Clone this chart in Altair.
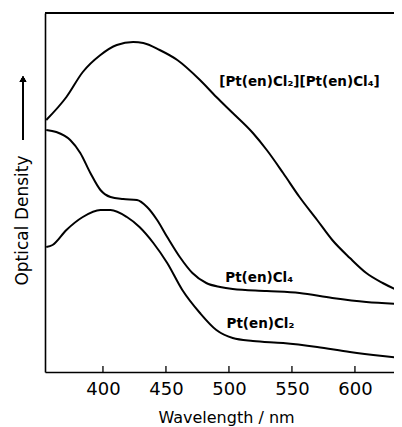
import altair as alt
import pandas as pd

# Wavelength (nm) and optical density (arbitrary units)
mixed_wl = [355, 371, 384, 398, 411, 424, 432, 445, 459, 477, 490, 503, 519, 530,
            543, 556, 570, 582, 596, 609, 622, 637]
mixed_od = [2.52, 2.75, 3.00, 3.17, 3.27, 3.30, 3.29, 3.22, 3.12, 2.92, 2.75, 2.59,
            2.39, 2.22, 1.99, 1.75, 1.52, 1.32, 1.14, 0.99, 0.89, 0.80]

cl4_wl = [355, 363, 374, 382, 390, 398, 406, 416, 427, 435, 443, 451, 461, 471,
          482, 493, 503, 530, 556, 582, 609, 637]
cl4_od = [2.42, 2.40, 2.32, 2.19, 1.99, 1.82, 1.75, 1.73, 1.72, 1.65, 1.52, 1.35,
          1.15, 0.99, 0.89, 0.85, 0.83, 0.81, 0.79, 0.74, 0.70, 0.68]

cl2_wl = [355, 360, 371, 384, 398, 406, 419, 429, 440, 451, 463, 477, 490, 503,
          519, 543, 570, 596, 622, 637]
cl2_od = [1.25, 1.27, 1.42, 1.55, 1.62, 1.62, 1.55, 1.45, 1.29, 1.09, 0.82, 0.59,
          0.42, 0.34, 0.31, 0.29, 0.25, 0.20, 0.16, 0.14]

series_names = ["[Pt(en)Cl₂][Pt(en)Cl₄]", "Pt(en)Cl₄", "Pt(en)Cl₂"]
label_wl = [556, 524, 525]
label_od = [2.90, 0.94, 0.48]

tick_values = [400, 450, 500, 550, 600]
x_domain = [354, 631]
y_domain = [0, 3.59]

rows = []
for name, wl, od in zip(series_names, [mixed_wl, cl4_wl, cl2_wl], [mixed_od, cl4_od, cl2_od]):
    for w, o in zip(wl, od):
        rows.append({"series": name, "wl": w, "od": o})
df = pd.DataFrame(rows)
labels = pd.DataFrame({"series": series_names, "wl": label_wl, "od": label_od})
ticks = pd.DataFrame({"wl": tick_values})

FONT = "DejaVu Sans"
W, H = 349, 359

xscale = alt.Scale(domain=x_domain, nice=False, zero=False)
yscale = alt.Scale(domain=y_domain, nice=False, zero=False)

lines = alt.Chart(df).mark_line(color="black", strokeWidth=2, clip=True,
                                interpolate="monotone").encode(
    x=alt.X("wl:Q", scale=xscale,
            axis=alt.Axis(title="Wavelength / nm", values=tick_values, ticks=False, tickSize=0,
                          grid=False, domainColor="black", domainWidth=1.6,
                          labelFont=FONT, labelFontSize=18, labelColor="black", labelPadding=8,
                          titleFont=FONT, titleFontSize=16, titleFontWeight="normal",
                          titleColor="black", titleX=181, titleY=50,
                          titleBaseline="alphabetic", titleAlign="center")),
    y=alt.Y("od:Q", scale=yscale,
            axis=alt.Axis(title="Optical Density", labels=False, ticks=False, grid=False,
                          domainColor="black", domainWidth=1.6,
                          titleFont=FONT, titleFontSize=17, titleFontWeight="normal",
                          titleColor="black", titleAngle=270, titleX=-23, titleY=207,
                          titleAlign="center", titleBaseline="middle")),
    detail="series:N",
)

text = alt.Chart(labels).mark_text(font=FONT, fontSize=13.5, fontWeight="bold", color="black").encode(
    x=alt.X("wl:Q", scale=xscale),
    y=alt.Y("od:Q", scale=yscale),
    text="series:N",
)

tick_marks = alt.Chart(ticks).mark_rule(color="black", strokeWidth=1.3).encode(
    x=alt.X("wl:Q", scale=xscale),
    y=alt.value(H),
    y2=alt.value(H - 6),
)

top_border = alt.Chart(ticks).mark_rule(color="black", strokeWidth=1.6).encode(
    x=alt.value(0), x2=alt.value(W), y=alt.value(0)
)

arrow_line = alt.Chart(ticks).mark_rule(color="black", strokeWidth=1.3, clip=False).encode(
    x=alt.value(-22), y=alt.value(127), y2=alt.value(68)
)
arrow_head = alt.Chart(ticks).mark_point(shape="triangle-up", filled=True, color="black",
                                         size=45, opacity=1, clip=False).encode(
    x=alt.value(-22), y=alt.value(66)
)

chart = alt.layer(lines, text, tick_marks, top_border, arrow_line, arrow_head).properties(
    width=W, height=H,
    autosize=alt.AutoSizeParams(type="none"),
    padding={"left": 37, "top": 5, "right": 0, "bottom": 54},
    background="white",
).configure_view(stroke=None)

chart.save("out.html", embed_options={"renderer": "svg", "actions": False})
